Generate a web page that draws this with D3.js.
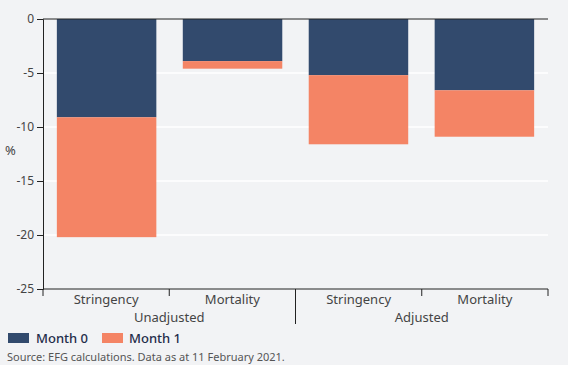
<!DOCTYPE html>
<html><head><meta charset="utf-8">
<script src="https://cdn.jsdelivr.net/npm/d3@7"></script>
<style>
html,body{margin:0;padding:0;background:#f2f3f5;}
svg{display:block;font-family:"Noto Sans",sans-serif;}
</style></head><body>
<svg id="c" width="568" height="365"></svg>
<script>
const categories = ["Stringency","Mortality","Stringency","Mortality"];
const groups = ["Unadjusted","Adjusted"];
const seriesNames = ["Month 0","Month 1"];
const month0 = [-9.1, -3.9, -5.2, -6.6];
const month1 = [-11.1, -0.7, -6.4, -4.3];
const yTicks = [0,-5,-10,-15,-20,-25];
const colors = ["#324a6d","#f48465"];

const svg = d3.select("#c");
const W=568,H=365;
svg.append("rect").attr("width",W).attr("height",H).attr("fill","#f2f3f5");
const m={l:43,r:20,t:19,b:76};
const x = d3.scaleBand().domain(d3.range(categories.length)).range([m.l,W-m.r]).paddingInner(0.21).paddingOuter(0.11);
const y = d3.scaleLinear().domain([-25,0]).range([H-m.b,m.t]);

// gridlines
svg.append("g").selectAll("line").data(yTicks.filter(d=>d!==0 && d!==-25)).join("line")
  .attr("x1",m.l).attr("x2",W-m.r).attr("y1",d=>y(d)).attr("y2",d=>y(d))
  .attr("stroke","#ffffff").attr("stroke-width",1.5);

// bars
const data = categories.map((c,i)=>({i, v0:month0[i], v1:month1[i]}));
const g = svg.append("g");
g.selectAll(".b0").data(data).join("rect")
  .attr("x",d=>x(d.i)).attr("width",x.bandwidth())
  .attr("y",y(0)).attr("height",d=>y(d.v0)-y(0)).attr("fill",colors[0]);
g.selectAll(".b1").data(data).join("rect")
  .attr("x",d=>x(d.i)).attr("width",x.bandwidth())
  .attr("y",d=>y(d.v0)).attr("height",d=>y(d.v0+d.v1)-y(d.v0)).attr("fill",colors[1]);

// y axis
const ya = svg.append("g").attr("transform",`translate(${m.l},0)`)
  .call(d3.axisLeft(y).tickValues(yTicks).tickSize(6).tickPadding(3).tickFormat(d=>String(d)));
ya.select(".domain").attr("stroke","#222");
ya.selectAll(".tick line").attr("stroke","#222");
ya.selectAll("text").attr("fill","#444").attr("font-size",12).attr("font-family","Noto Sans");

// zero line
svg.append("line").attr("x1",m.l).attr("x2",W-m.r).attr("y1",y(0)).attr("y2",y(0)).attr("stroke","#222");
// bottom axis line
const yb = y(-25);
svg.append("line").attr("x1",m.l).attr("x2",W-m.r).attr("y1",yb).attr("y2",yb).attr("stroke","#222");
// ticks at band boundaries
const bounds = d3.range(categories.length+1).map(i=> m.l + i*(W-m.r-m.l)/categories.length);
svg.append("g").selectAll("line").data(bounds).join("line")
  .attr("x1",d=>d).attr("x2",d=>d).attr("y1",yb).attr("y2",(d,i)=> i===2 ? yb+35 : yb+7)
  .attr("stroke","#222");

// category labels
svg.append("g").selectAll("text").data(categories).join("text")
  .attr("x",(d,i)=>(bounds[i]+bounds[i+1])/2).attr("y",yb+15)
  .attr("text-anchor","middle").attr("font-size",13).attr("fill","#444").text(d=>d);
// group labels
svg.append("g").selectAll("text").data(groups).join("text")
  .attr("x",(d,i)=>(bounds[i*2]+bounds[i*2+2])/2).attr("y",yb+33)
  .attr("text-anchor","middle").attr("font-size",13).attr("fill","#444").text(d=>d);

// % label
svg.append("text").attr("x",5).attr("y",155).attr("font-size",13).attr("fill","#444").text("%");

// legend
const leg = svg.append("g");
const lx=[8,102], tx=[36,129];
seriesNames.forEach((s,i)=>{
  leg.append("rect").attr("x",lx[i]).attr("y",333).attr("width",21).attr("height",10).attr("fill",colors[i]);
  leg.append("text").attr("x",tx[i]).attr("y",343).attr("font-size",13).attr("font-weight",500).attr("fill","#1f2d4a").text(s);
});

// source
svg.append("text").attr("x",7).attr("y",361).attr("font-size",11).attr("fill","#555")
  .text("Source: EFG calculations. Data as at 11 February 2021.");
</script>
</body></html>
